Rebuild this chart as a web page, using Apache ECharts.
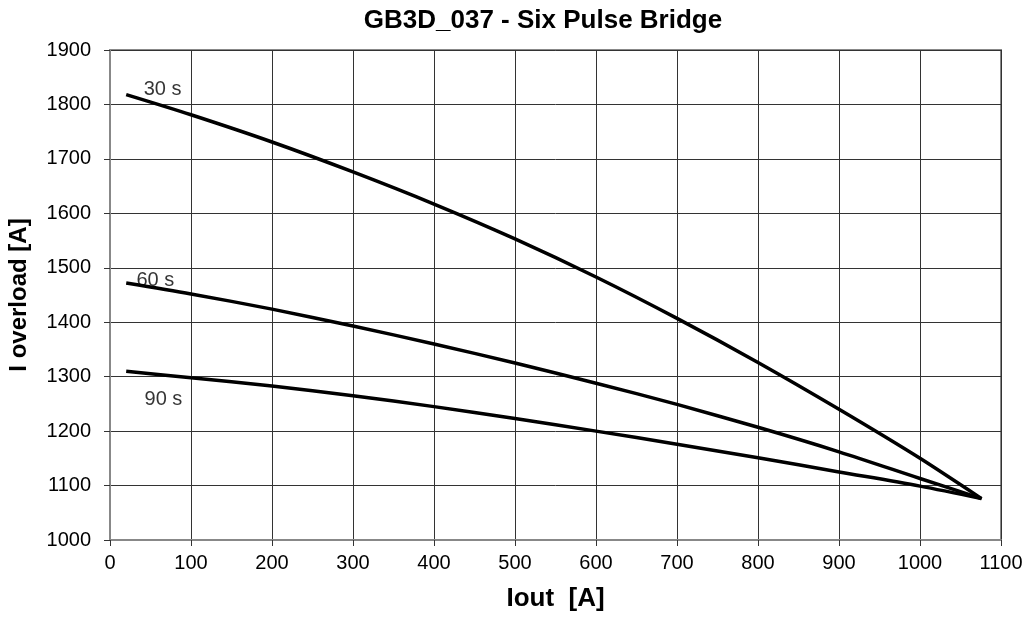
<!DOCTYPE html>
<html><head><meta charset="utf-8">
<script src="https://cdn.jsdelivr.net/npm/echarts@6/dist/echarts.min.js"></script>
<style>html,body{margin:0;padding:0;background:#fff}#c{width:1031px;height:622px}</style>
</head><body><div id="c"></div>
<script>
const xs = [20, 100, 200, 300, 400, 500, 600, 700, 800, 900, 1000, 1076];
const s30 = [1818, 1781, 1731, 1676, 1617, 1553, 1483, 1407, 1326, 1240, 1150, 1076];
const s60 = [1472, 1452, 1424, 1393, 1360, 1325, 1288, 1249, 1207, 1162, 1113, 1076];
const s90 = [1310, 1298, 1283, 1265, 1245, 1223, 1200, 1176, 1151, 1125, 1099, 1076];
const labelNames = ['30 s', '60 s', '90 s'];
const labelX = [65, 56, 66];
const labelY = [1828, 1476, 1258];
const font = 'Liberation Sans, Arial, sans-serif';
const mk = arr => xs.map((x, i) => [x, arr[i]]);
const lineSeries = (name, arr) => ({
  name, type: 'line', data: mk(arr), symbol: 'none', smooth: 0.3,
  lineStyle: { color: '#000', width: 3.5 }, silent: true, z: 5
});
const chart = echarts.init(document.getElementById('c'));
chart.setOption({
  animation: false,
  title: { text: 'GB3D_037 - Six Pulse Bridge', left: 538, top: 3, textAlign: 'center',
    textStyle: { fontFamily: font, fontSize: 26, fontWeight: 'bold', color: '#000' } },
  grid: { left: 110, right: 30, top: 50, bottom: 82, containLabel: false, outerBoundsMode: 'none',
    show: true, borderColor: '#888', borderWidth: 2 },
  xAxis: { type: 'value', min: 0, max: 1100, interval: 100,
    name: 'Iout  [A]', nameLocation: 'middle', nameGap: 46,
    nameTextStyle: { fontFamily: font, fontSize: 26, fontWeight: 'bold', color: '#000' },
    axisLine: { lineStyle: { color: '#888', width: 2 } },
    axisTick: { show: true, length: 6, lineStyle: { color: '#333' } },
    axisLabel: { fontFamily: font, fontSize: 20, color: '#000', margin: 13, formatter: v => String(v) },
    splitLine: { show: true, lineStyle: { color: '#333', width: 1 } } },
  yAxis: { type: 'value', min: 1000, max: 1900, interval: 100,
    name: 'I overload [A]', nameLocation: 'middle', nameGap: 79,
    nameTextStyle: { fontFamily: font, fontSize: 24, fontWeight: 'bold', color: '#000' },
    axisLine: { show: true, lineStyle: { color: '#888', width: 2 } },
    axisTick: { show: true, length: 6, lineStyle: { color: '#333' } },
    axisLabel: { fontFamily: font, fontSize: 20, color: '#000', margin: 19, formatter: v => String(v) },
    splitLine: { show: true, lineStyle: { color: '#333', width: 1 } } },
  series: [
    lineSeries('30 s', s30), lineSeries('60 s', s60), lineSeries('90 s', s90),
    { type: 'scatter', symbolSize: 0, silent: true, z: 6,
      data: labelNames.map((n, i) => ({ value: [labelX[i], labelY[i]], name: n })),
      label: { show: true, position: 'inside', formatter: p => p.name,
        fontFamily: font, fontSize: 20, color: '#000' } }
  ]
});
</script></body></html>
